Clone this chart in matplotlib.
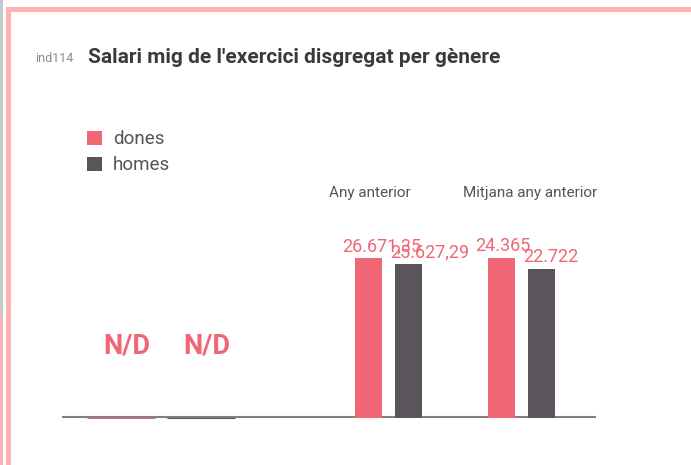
"""
Salari mig de l'exercici disgregat per gènere (ind114).
"""

import numpy as np
import matplotlib
matplotlib.use("Agg")
import matplotlib.pyplot as plt
from matplotlib.patches import Rectangle

# === DATA ===
categories = ["", "Any anterior", "Mitjana any anterior"]
dones = [np.nan, 26671.35, 24365]
homes = [np.nan, 25627.29, 22722]
dones_labels = ["N/D", "26.671,35", "24.365"]
homes_labels = ["N/D", "25.627,29", "22.722"]
series_names = ["dones", "homes"]

# === STYLE ===
W, H = 691, 465
PINK = "#f06674"
DARK = "#5a555a"
BORDER = "#ffb0b0"
TEXT = "#555555"
FONT = "Roboto"
TITLE_FONT = ["Liberation Sans Narrow", "Roboto"]

# axes extents per group, in pixels (left, right); all share the same baseline
GROUP_X = [(81, 241), (348.5, 428.5), (481.5, 561.5)]
BAR_W = [0.84, 0.675, 0.675]
TOP, BOTTOM = 258, 418


def fig_rect(x0, x1, y0, y1):
    return [x0 / W, 1 - y1 / H, (x1 - x0) / W, (y1 - y0) / H]


fig = plt.figure(figsize=(W / 100, H / 100), dpi=100)

# background layer for frame, baseline, legend and titles (pixel coords)
bg = fig.add_axes([0, 0, 1, 1], zorder=-1)
bg.set_xlim(0, W)
bg.set_ylim(H, 0)
bg.axis("off")

bg.add_patch(Rectangle((0, 0), 3.3, 317, color="#c8c8c8", lw=0))
bg.add_patch(Rectangle((0, 317), 3.3, H - 317, color=BORDER, lw=0))
bg.add_patch(Rectangle((6, 7), 5, H - 7, color=BORDER, lw=0))
bg.add_patch(Rectangle((6, 7), W - 6, 5, color=BORDER, lw=0))

bg.plot([62, 596], [416.7, 416.7], color="#808080", lw=1.5, solid_capstyle="butt")

bg.text(35, 62, "ind114", fontsize=9, color="#8a8a8a", family=FONT, va="baseline")
bg.text(88, 63, "Salari mig de l'exercici disgregat per gènere", fontsize=15,
        fontweight="bold", color="#3a3a3a", family=TITLE_FONT, va="baseline")

# legend
for i, (name, col) in enumerate(zip(series_names, [PINK, DARK])):
    y0 = 131 + i * 26
    bg.add_patch(Rectangle((87, y0), 15, 13.5, color=col, lw=0))
    bg.text(113, y0 + 13, name, fontsize=13.5, color=TEXT, family=FONT, va="baseline")

# category labels
cat_x = [161, 370, 530.5]
for cx, cat in zip(cat_x, categories):
    if cat:
        bg.text(cx, 197, cat, fontsize=11, color=TEXT, family=FONT,
                ha="center", va="baseline")

# bars, one axes per group (each group scaled on its own)
for g in range(len(categories)):
    x0, x1 = GROUP_X[g]
    ax = fig.add_axes(fig_rect(x0, x1, TOP, BOTTOM))
    ax.set_xlim(-1, 1)
    vals = [dones[g], homes[g]]
    vmax = np.nanmax(vals) if not np.all(np.isnan(vals)) else 1
    ax.set_ylim(0, vmax)
    ax.axis("off")

    for j, (v, col, lab) in enumerate(zip(vals, [PINK, DARK],
                                           [dones_labels[g], homes_labels[g]])):
        xc = -0.5 + j
        h = 0 if np.isnan(v) else v
        ax.bar(xc, h, width=BAR_W[g], color=col, edgecolor=col,
               lw=0.8 if h == 0 else 0, clip_on=False)
        if lab == "N/D":
            ax.annotate(lab, (xc, 0), xytext=(6 * 0.72, 65 * 0.72),
                        textcoords="offset points", ha="center", va="baseline",
                        fontsize=19.5, fontweight="bold", color=PINK, family=FONT)
        else:
            dx = -13 if j == 0 else -5
            ax.annotate(lab, (xc - BAR_W[g] / 2, h), xytext=(dx * 0.72, 7 * 0.72),
                        textcoords="offset points", ha="left", va="baseline",
                        fontsize=13, color=PINK, family=FONT, annotation_clip=False)

fig.savefig("out.png", dpi=100)
